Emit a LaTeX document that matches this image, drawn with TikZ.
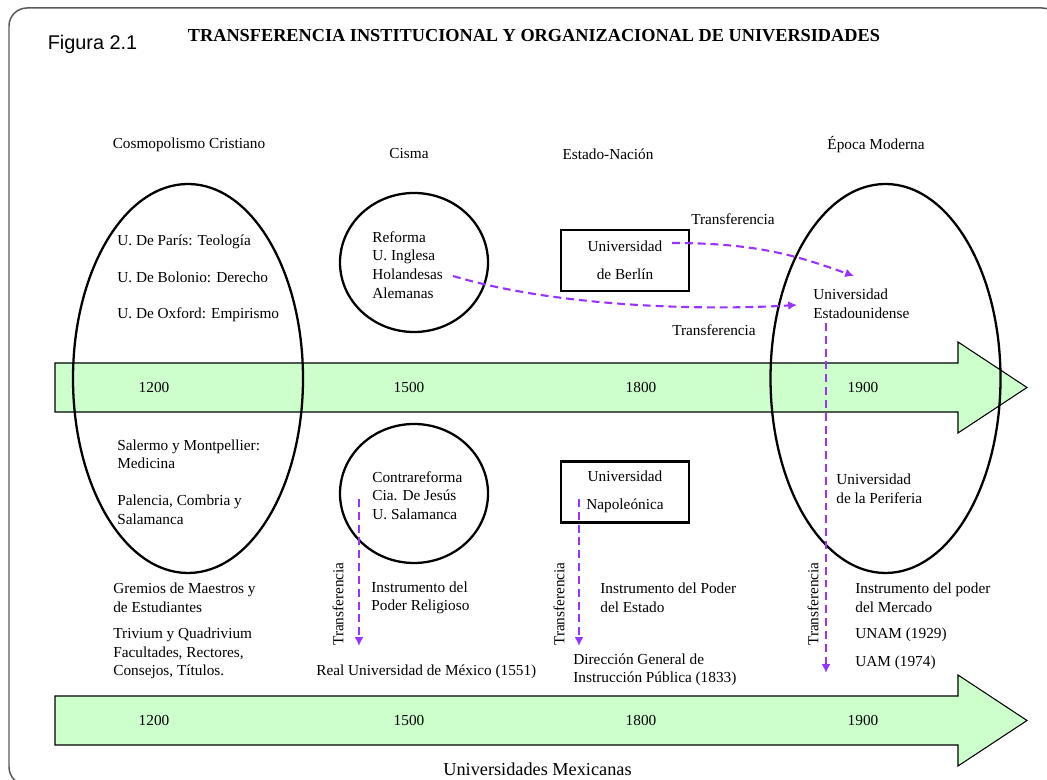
\documentclass[tikz,border=0pt]{standalone}
\usepackage{fontspec}
\setmainfont{Liberation Serif}
\newfontfamily\figfont{Liberation Sans}
\usetikzlibrary{calc}
\usetikzlibrary{shapes.geometric}
\usetikzlibrary{arrows.meta}

\definecolor{verde}{RGB}{204,255,204}
\definecolor{transf}{RGB}{153,51,255}

\tikzset{
  every node/.style={font=\fontsize{8.7}{10.6}\selectfont},
  periodo/.style={ellipse, draw, line width=1.3pt, minimum width=4.6cm, minimum height=7.78cm},
  cisma/.style={ellipse, draw, line width=1.3pt, minimum width=2.96cm, minimum height=2.78cm},
  modelo/.style={rectangle, draw, line width=1.2pt, minimum width=2.56cm, minimum height=1.22cm, align=center},
  texto/.style={anchor=west, align=left, inner sep=0pt},
  linea/.style={draw, fill=verde, line width=0.6pt},
  transfer/.style={draw=transf, line width=1.2pt, dash pattern=on 4.5pt off 2.8pt,
    -{Latex[length=5pt,width=5pt,fill=transf]}}
}

\begin{document}
\begin{tikzpicture}
    \path[use as bounding box] (0,0) rectangle (20.94,15.6);
    \clip (0,0) rectangle (20.94,15.6);

    % marco
    \draw[black!65, line width=0.85pt, rounded corners=0.36cm] (0.18,-0.1) rectangle (21.2,15.44);
    \node[font=\figfont\fontsize{11.3}{13}\selectfont] (fig) at (1.85,14.72) {Figura 2.1};
    \node[font=\bfseries\fontsize{10.4}{12}\selectfont] (titulo) at (10.68,14.88)
        {TRANSFERENCIA INSTITUCIONAL Y ORGANIZACIONAL DE UNIVERSIDADES};

    % lineas de tiempo
    \foreach \y/\t in {7.85/sup,1.19/inf} {
        \draw[linea] (1.1,\y+0.49) -- (19.16,\y+0.49) -- (19.16,\y+0.91) -- (20.54,\y)
            -- (19.16,\y-0.91) -- (19.16,\y-0.49) -- (1.1,\y-0.49) -- cycle;
        \foreach \x/\a in {3.08/1200,8.18/1500,12.82/1800,17.26/1900}
            \node (\t\a) at (\x,\y) {\a};
    }
    \node[font=\fontsize{10.4}{12}\selectfont] (mex) at (10.75,0.22) {Universidades Mexicanas};

    % epocas
    \node (h1) at (3.78,12.7) {Cosmopolismo Cristiano};
    \node (h2) at (8.18,12.52) {Cisma};
    \node (h3) at (12.16,12.52) {Estado-Nación};
    \node (h4) at (17.52,12.7) {Época Moderna};

    \node[periodo] (cosmo) at (3.76,8.03) {};
    \node[periodo] (moderna) at (17.71,8.03) {};
    \node[cisma] (reforma) at (8.28,10.35) {};
    \node[cisma] (contra) at (8.28,5.73) {};
    \node[modelo] (berlin) at (12.5,10.39) {Universidad\\[5.3pt]de Berlín};
    \node[modelo] (napo) at (12.5,5.76) {Universidad\\[5.3pt]Napoleónica};

    % arriba
    \node[texto] (europa) at (2.34,10.03)
        {U. De París: Teología\\[10.2pt]U. De Bolonio: Derecho\\[10.2pt]U. De Oxford: Empirismo};
    \node[texto] (protes) at (7.44,10.3) {Reforma\\U. Inglesa\\Holandesas\\Alemanas};
    \node[texto] (usa) at (16.26,9.52) {Universidad\\Estadounidense};
    \node (t1) at (14.66,11.22) {Transferencia};
    \node (t2) at (14.28,9.0) {Transferencia};

    % abajo
    \node[texto] (medicina) at (2.34,5.96)
        {Salermo y Montpellier:\\Medicina\\[10.2pt]Palencia, Combria y\\Salamanca};
    \node[texto] (jesus) at (7.44,5.69) {Contrareforma\\Cia. De Jesús\\U. Salamanca};
    \node[texto] (periferia) at (16.72,5.82) {Universidad\\de la Periferia};

    \node[texto] (gremios) at (2.26,3.64) {Gremios de Maestros y\\de Estudiantes};
    \node[texto] (trivium) at (2.26,2.53) {Trivium y Quadrivium\\Facultades, Rectores,\\Consejos, Títulos.};
    \node[texto] (religion) at (7.42,3.64) {Instrumento del\\Poder Religioso};
    \node[texto] (real) at (6.32,2.16) {Real Universidad de México (1551)};
    \node[texto] (estado) at (12.0,3.64) {Instrumento del Poder\\del Estado};
    \node[texto] (direccion) at (11.46,2.2) {Dirección General de\\Instrucción Pública (1833)};
    \node[texto] (mercado) at (17.1,3.64) {Instrumento del poder\\del Mercado};
    \node[texto] (unam) at (17.1,2.9) {UNAM (1929)};
    \node[texto] (uam) at (17.1,2.34) {UAM (1974)};

    \node[rotate=90] (t3) at (6.76,3.52) {Transferencia};
    \node[rotate=90] (t4) at (11.18,3.52) {Transferencia};
    \node[rotate=90] (t5) at (16.26,3.52) {Transferencia};

    % transferencias
    \coordinate (hol) at (9.06,10.08);
    \coordinate (ber) at (13.44,10.74);
    \coordinate (usain) at (17.08,10.08);
    \coordinate (usaout) at (16.52,9.14);
    \coordinate (contraout) at (7.18,5.62);
    \coordinate (napoout) at (11.58,5.62);

    \draw[transfer, shorten >=0.32cm] (hol) .. controls (11.06,9.48) and (13.94,9.38) .. (usa.west);
    \draw[transfer] (ber) .. controls (15.2,10.74) and (16.0,10.46) .. (usain);
    \draw[transfer] (usaout) -- (16.52,2.14);
    \draw[transfer] (contraout) -- (7.18,2.68);
    \draw[transfer] (napoout) -- (11.58,2.68);
\end{tikzpicture}
\end{document}
